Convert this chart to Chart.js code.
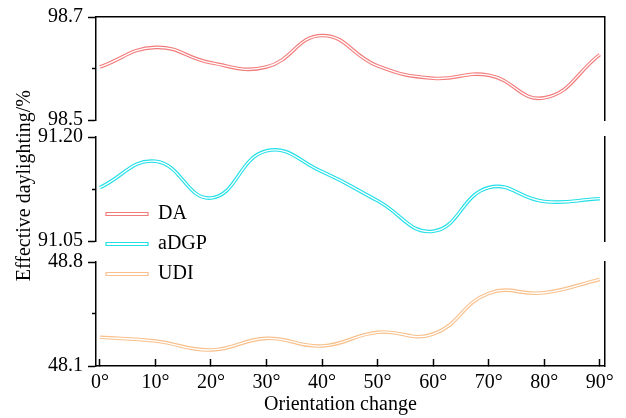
<!DOCTYPE html>
<html>
<head>
<meta charset="utf-8">
<script src="https://cdn.jsdelivr.net/npm/chart.js@4.4.0/dist/chart.umd.min.js"></script>
<style>
  html, body { margin: 0; padding: 0; background: #fff; }
  #wrap { width: 626px; height: 418px; }
</style>
</head>
<body>
<div id="wrap"><canvas id="chart" width="626" height="418"></canvas></div>
<script>
// values, one point every 10 degrees
const angles = [0, 10, 20, 30, 40, 50, 60, 70, 80, 90];
const angleLabels = ['0°', '10°', '20°', '30°', '40°', '50°', '60°', '70°', '80°', '90°'];
const seriesNames = ['DA', 'aDGP', 'UDI'];

const daValues   = [98.603, 98.641, 98.611, 98.603, 98.664, 98.605, 98.581, 98.587, 98.543, 98.627];
const adgpValues = [91.127, 91.165, 91.112, 91.180, 91.150, 91.108, 91.064, 91.127, 91.107, 91.111];
const udiValues  = [48.293, 48.268, 48.208, 48.286, 48.235, 48.327, 48.315, 48.589, 48.593, 48.683];

// y ticks per panel (middle one is a minor tick with no label)
const daTicks = [98.5, 98.6, 98.7];
const daTickLabels = ['98.5', '', '98.7'];
const adgpTicks = [91.05, 91.125, 91.20];
const adgpTickLabels = ['91.05', '', '91.20'];
const udiTicks = [48.1, 48.45, 48.8];
const udiTickLabels = ['48.1', '', '48.8'];

Chart.defaults.font.family = "'Liberation Serif', 'Times New Roman', serif";
Chart.defaults.font.size = 20;
Chart.defaults.color = '#000';

const black = '#000';
const colors = ['#f27c7c', '#22dfe8', '#f8c08c'];

const series = [
  { name: seriesNames[0], values: daValues, axis: 'yDA' },
  { name: seriesNames[1], values: adgpValues, axis: 'yGP' },
  { name: seriesNames[2], values: udiValues, axis: 'yUDI' }
];

// each curve is a wide coloured line with a thin white one on top -> hollow look
const datasets = [];
series.forEach((s, i) => {
  const pts = angles.map((a, j) => ({ x: a, y: s.values[j] }));
  datasets.push({ label: s.name, data: pts, yAxisID: s.axis, borderColor: colors[i], borderWidth: 3.6, tension: 0.45, order: 1 });
  datasets.push({ label: s.name + '-inner', data: pts, yAxisID: s.axis, borderColor: '#fff', borderWidth: 1.3, tension: 0.45, order: 0 });
});

function leftAxis(ticks, labels, order, h, title) {
  return {
    type: 'linear', axis: 'y', position: 'left', stack: 'panels', stackWeight: h, weight: order,
    min: ticks[0], max: ticks[ticks.length - 1],
    afterBuildTicks: s => { s.ticks = ticks.map(v => ({ value: v })); },
    afterFit: s => { s.width = 96; },
    border: { color: black, width: 1.5 },
    grid: {
      drawOnChartArea: false, tickLength: 8, tickColor: black, tickWidth: 1.5,
      tickBorderDash: c => labels[c.index] ? [] : [4, 4],
      tickBorderDashOffset: c => labels[c.index] ? 0 : 4
    },
    ticks: { padding: 5, autoSkip: false, callback: (v, i) => labels[i] },
    title: title ? { display: true, text: title, padding: { top: 13, bottom: 0 } } : { display: false }
  };
}

function rightAxis(order, h) {
  return {
    type: 'linear', axis: 'y', position: 'right', stack: 'panels', stackWeight: h, weight: order,
    border: { color: black, width: 1.5 },
    grid: { drawOnChartArea: false, drawTicks: false },
    ticks: { display: false },
    afterFit: s => { s.width = 0; }
  };
}

function gapAxis(position, order, h) {
  return { type: 'linear', axis: 'y', position: position, stack: 'panels', stackWeight: h, weight: order, display: false };
}

new Chart(document.getElementById('chart'), {
  type: 'line',
  data: { datasets: datasets },
  options: {
    responsive: false,
    animation: false,
    devicePixelRatio: 1,
    layout: { padding: { top: 17, right: 19, left: 0, bottom: 0 } },
    elements: { point: { radius: 0 } },
    scales: {
      x: {
        type: 'linear', position: 'bottom', min: -0.7, max: 90.9,
        afterBuildTicks: s => { s.ticks = angles.map(v => ({ value: v })); },
        afterFit: s => { s.height = 52; },
        border: { color: black, width: 1.5 },
        grid: { drawOnChartArea: false, tickLength: -7, tickColor: black, tickWidth: 1.5 },
        ticks: { padding: 12, maxRotation: 0, autoSkip: false, callback: (v, i) => angleLabels[i] },
        // trailing em space nudges the centred title left, as in the figure
        title: { display: true, text: 'Orientation change\u2003', padding: { top: 0, bottom: 1 } }
      },
      xTop: {
        type: 'linear', axis: 'x', position: 'top', min: -0.7, max: 90.9,
        border: { color: black, width: 1.5 },
        grid: { drawOnChartArea: false, drawTicks: false },
        ticks: { display: false },
        afterFit: s => { s.height = 0; }
      },
      // left stack: higher weight sits higher up
      yDA: leftAxis(daTicks, daTickLabels, 5, 103),
      gapL1: gapAxis('left', 4, 17),
      yGP: leftAxis(adgpTicks, adgpTickLabels, 3, 104, '\u2004Effective daylighting/%'),
      gapL2: gapAxis('left', 2, 21),
      yUDI: leftAxis(udiTicks, udiTickLabels, 1, 104),
      // right stack: lower weight sits higher up
      rDA: rightAxis(1, 103),
      gapR1: gapAxis('right', 2, 17),
      rGP: rightAxis(3, 104),
      gapR2: gapAxis('right', 4, 21),
      rUDI: rightAxis(5, 104)
    },
    plugins: {
      tooltip: { enabled: false },
      legend: {
        display: true, position: 'chartArea', align: 'start',
        title: { display: true, text: ' ', padding: { top: 170, bottom: 0 } },
        labels: {
          boxWidth: 42, boxHeight: 3, padding: 10,
          generateLabels: () => seriesNames.map((n, i) => ({
            text: n, fillStyle: '#fff', strokeStyle: colors[i], lineWidth: 1.2, hidden: false, datasetIndex: i * 2
          }))
        }
      }
    }
  }
});
</script>
</body>
</html>
